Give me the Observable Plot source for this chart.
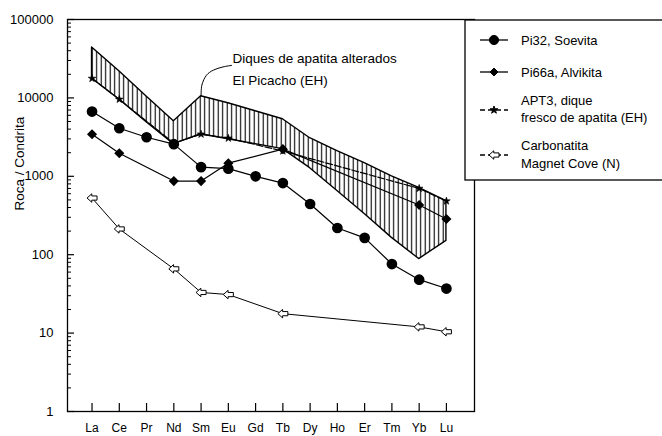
<!DOCTYPE html>
<html><head><meta charset="utf-8">
<script src="https://cdn.jsdelivr.net/npm/d3@7"></script>
<script src="https://cdn.jsdelivr.net/npm/@observablehq/plot@0.6"></script>
<style>html,body{margin:0;padding:0;background:#fff;overflow:hidden}</style>
</head><body><div id="chart"></div>
<script>
const elements = ["La","Ce","Pr","Nd","Sm","Eu","Gd","Tb","Dy","Ho","Er","Tm","Yb","Lu"];
const pi32 = [6700, 4100, 3150, 2570, 1310, 1250, 1000, 820, 443, 219, 164, 76, 48, 37];
const pi66a = [3440, 1970, null, 869, 869, 1470, null, 2220, null, null, null, null, 430, 285];
const apt3 = [17700, 9580, null, 2650, 3440, 3060, null, 2100, null, null, null, null, 700, 483];
const magnetCove = [528, 213, null, 66, 33, 31, null, 17.7, null, null, null, null, 12, 10.4];
const alteredUpper = [44000, 21900, 10400, 5040, 10500, 8540, 6760, 5340, 3060, 2090, 1470, 1000, 710, 483];
const alteredLower = [17700, 9540, 4900, 2570, 3440, 2970, 2570, 2220, 1270, 648, 330, 164, 88, 150];
const yTicks = [1, 10, 100, 1000, 10000, 100000];
const seriesNames = [["Pi32, Soevita"], ["Pi66a, Alvikita"], ["APT3, dique", "fresco de apatita (EH)"], ["Carbonatita", "Magnet Cove (N)"]];
const yLabel = "Roca / Condrita";
const annotationLines = ["Diques de apatita alterados", "El Picacho (EH)"];
const annotationX = 5.15;
const annotationY = [31800, 16700];
const leaderX = [4, 4.03, 4.2, 4.45, 4.8, 5.12];
const leaderY = [10500, 14600, 19500, 22600, 24800, 26000];

const W = 662, H = 436, mL = 67, mR = 188, mT = 19, mB = 25;
const xDomain = [-0.9, 14.03];
const pxPerX = (W - mL - mR) / (xDomain[1] - xDomain[0]);
const pxPerDecade = (H - mT - mB) / 5;
const font = "'Liberation Sans', Arial, Helvetica, sans-serif";

const rows = arr => arr.map((v, i) => ({i, v})).filter(d => d.v != null);
const band = elements.map((e, i) => ({i, lo: alteredLower[i], hi: alteredUpper[i]}));
const minorTicks = [];
for (let k = 0; k < 5; k++) for (let m = 2; m <= 9; m++) minorTicks.push(m * Math.pow(10, k));
const idx = elements.map((e, i) => i);

const arrowSymbol = {
  draw(context, size) {
    const r = Math.sqrt(size / Math.PI);
    context.moveTo(-r, 0);
    context.lineTo(-0.05 * r, -0.85 * r);
    context.lineTo(-0.05 * r, -0.42 * r);
    context.lineTo(r, -0.42 * r);
    context.lineTo(r, 0.42 * r);
    context.lineTo(-0.05 * r, 0.42 * r);
    context.lineTo(-0.05 * r, 0.85 * r);
    context.closePath();
  }
};

const chart = Plot.plot({
  width: W, height: H,
  marginLeft: mL, marginRight: mR, marginTop: mT, marginBottom: mB,
  x: {type: "linear", domain: xDomain, axis: null},
  y: {type: "log", domain: [1, 100000], axis: null},
  style: {fontFamily: font, background: "white", color: "black"},
  marks: [
    Plot.areaY(band, {x: "i", y1: "lo", y2: "hi", fill: "url(#hatch)", stroke: "black", strokeWidth: 1.4}),
    Plot.line(leaderX.map((x, k) => ({x, y: leaderY[k]})), {x: "x", y: "y", curve: "catmull-rom", stroke: "black", strokeWidth: 1}),
    Plot.line(rows(magnetCove), {x: "i", y: "v", stroke: "black", strokeWidth: 1}),
    Plot.line(rows(apt3), {x: "i", y: "v", stroke: "black", strokeWidth: 1.2, strokeDasharray: "7,2"}),
    Plot.line(rows(pi66a), {x: "i", y: "v", stroke: "black", strokeWidth: 1.2}),
    Plot.line(rows(pi32), {x: "i", y: "v", stroke: "black", strokeWidth: 1.2}),
    Plot.dot(rows(magnetCove), {x: "i", y: "v", symbol: arrowSymbol, r: 5, fill: "white", stroke: "black", strokeWidth: 1}),
    Plot.dot(rows(apt3), {x: "i", y: "v", symbol: "star", r: 2.4, fill: "black", stroke: "black", strokeWidth: 0.6}),
    Plot.dot(rows(pi66a), {x: "i", y: "v", symbol: "diamond2", r: 3.6, fill: "black", stroke: "black"}),
    Plot.dot(rows(pi32), {x: "i", y: "v", symbol: "circle", r: 4.6, fill: "black", stroke: "black"}),
    Plot.text(annotationLines, {x: annotationX, y: (d, k) => annotationY[k], text: d => d, textAnchor: "start", fontSize: 13.5, fill: "black"}),
    Plot.frame({stroke: "black", strokeWidth: 1.3}),
    Plot.ruleX(idx, {x: d => d, y1: 1, y2: Math.pow(10, 8 / pxPerDecade), stroke: "black", strokeWidth: 1.2}),
    Plot.ruleY(yTicks, {y: d => d, x1: xDomain[0], x2: xDomain[0] + 7 / pxPerX, stroke: "black", strokeWidth: 1.2}),
    Plot.ruleY(minorTicks, {y: d => d, x1: xDomain[0], x2: xDomain[0] + 4 / pxPerX, stroke: "black", strokeWidth: 1}),
    Plot.text(idx, {x: d => d, y: 1, text: d => elements[d], dy: 17, fontSize: 12, fill: "black"}),
    Plot.text(yTicks, {x: xDomain[0], y: d => d, text: d => String(d), dx: -14, textAnchor: "end", fontSize: 13, fill: "black"}),
    Plot.text([yLabel], {frameAnchor: "left", dx: -48, dy: -5, rotate: -90, text: d => d, fontSize: 13.5, fill: "black"})
  ]
});

const svg = d3.select(chart);
const defs = svg.insert("defs", ":first-child");
const pat = defs.append("pattern").attr("id", "hatch").attr("patternUnits", "userSpaceOnUse")
  .attr("width", 4.5).attr("height", 10);
pat.append("rect").attr("width", 4.5).attr("height", 10).attr("fill", "white");
pat.append("line").attr("x1", 2.2).attr("x2", 2.2).attr("y1", 0).attr("y2", 10).attr("stroke", "black").attr("stroke-width", 1.1);

// Legend
const lg = svg.append("g").attr("font-family", font).attr("font-size", 13).attr("text-anchor", "start");
lg.append("rect").attr("x", 465).attr("y", 20).attr("width", 220).attr("height", 160)
  .attr("fill", "white").attr("stroke", "black").attr("stroke-width", 1.3);
const legendItems = [
  {y: 40, lines: [40], sym: d3.symbolCircle, r: 4.6, fill: "black", dash: null},
  {y: 72, lines: [72], sym: d3.symbolDiamond2, r: 3.6, fill: "black", dash: null},
  {y: 110, lines: [100, 117], sym: d3.symbolStar, r: 2.4, fill: "black", dash: "5,3"},
  {y: 155, lines: [145, 163], sym: arrowSymbol, r: 5, fill: "white", dash: "5,3"}
];
legendItems.forEach((it, k) => {
  lg.append("line").attr("x1", 480).attr("x2", 508).attr("y1", it.y).attr("y2", it.y)
    .attr("stroke", "black").attr("stroke-width", 1.3).attr("stroke-dasharray", it.dash);
  lg.append("path").attr("transform", `translate(494,${it.y})`)
    .attr("d", d3.symbol(it.sym, Math.PI * it.r * it.r)())
    .attr("fill", it.fill).attr("stroke", "black").attr("stroke-width", 1);
  seriesNames[k].forEach((t, j) => {
    lg.append("text").attr("x", 521).attr("y", it.lines[j]).attr("dy", "0.35em")
      .attr("text-anchor", "start").attr("fill", "black").text(t);
  });
});

document.getElementById("chart").appendChild(chart);
</script>
</body></html>
